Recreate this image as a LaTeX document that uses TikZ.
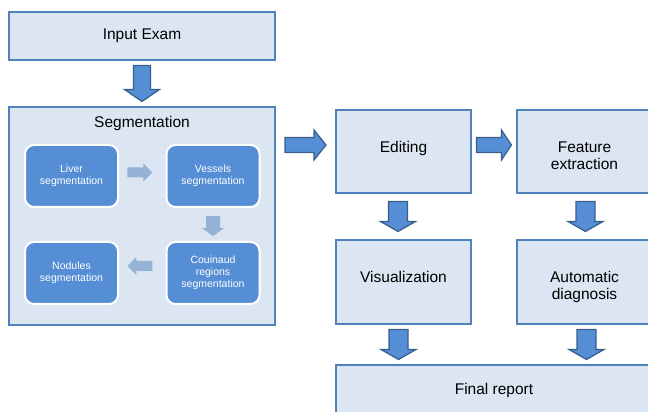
\documentclass[tikz,border=0pt]{standalone}
\usepackage{fontspec}
\setmainfont{Liberation Sans}
\usetikzlibrary{calc}
\definecolor{boxfill}{HTML}{DCE6F2}
\definecolor{boxline}{HTML}{4F81BD}
\definecolor{innerfill}{HTML}{558ED5}
\definecolor{arrline}{HTML}{385D8A}
\definecolor{lightarr}{HTML}{95B3D7}
\tikzset{
  mainbox/.style={draw=boxline, fill=boxfill, line width=2.6pt, inner sep=0pt, align=center,
    font=\fontsize{15.5}{17}\selectfont},
  innerbox/.style={draw=white, fill=innerfill, line width=2pt, rounded corners=9pt,
    minimum width=93pt, minimum height=62pt, inner sep=0pt, align=center, text=white,
    font=\fontsize{10.5}{12}\selectfont},
  bigarrow/.style={draw=arrline, fill=innerfill, line width=1.2pt, line join=miter},
  smallarrow/.style={fill=lightarr, draw=none},
  pics/barr/.style n args={5}{code={
    \path[#5] (-#1,-#2) -- ({#1-#4},-#2) -- ({#1-#4},-#3) -- (#1,0) -- ({#1-#4},#3)
      -- ({#1-#4},#2) -- (-#1,#2) -- cycle;}}
}
\newcommand{\twolines}[2]{\raisebox{-9.5pt}[0pt][0pt]{\begin{tabular}{@{}c@{}}#1\\#2\end{tabular}}}
\newcommand{\oneline}[2]{\raisebox{#1}[0pt][0pt]{#2}}
\begin{document}
\begin{tikzpicture}[x=1pt,y=1pt]
\useasboundingbox (0,0) rectangle (648,412);
\clip (0,0) rectangle (648,412);
% main boxes
\node[mainbox, minimum width=266pt, minimum height=48pt] (input) at (142,376) {Input Exam};
\node[mainbox, minimum width=266pt, minimum height=218pt] (seg) at (142,196) {};
\node[anchor=north, font=\fontsize{15.5}{17}\selectfont] (segtitle) at ($(seg.north)+(0,-7)$) {Segmentation};
\node[mainbox, minimum width=135pt, minimum height=83pt] (edit) at (403.5,260.5) {\oneline{-1.5pt}{Editing}};
\node[mainbox, minimum width=135pt, minimum height=83pt] (feat) at (584.5,260.5) {\twolines{Feature}{extraction}};
\node[mainbox, minimum width=135pt, minimum height=84pt] (vis) at (403.5,130) {\oneline{-1pt}{Visualization}};
\node[mainbox, minimum width=135pt, minimum height=84pt] (auto) at (584.5,130) {\twolines{Automatic}{diagnosis}};
\node[mainbox, minimum width=316pt, minimum height=84pt] (final) at (494,5) {};
\node[font=\fontsize{15.5}{17}\selectfont] (finaltext) at ($(final.north)+(0,-27)$) {Final report};
% inner boxes
\node[innerbox] (liver) at (71.5,236) {Liver\\segmentation};
\node[innerbox] (vessels) at (213,236) {Vessels\\segmentation};
\node[innerbox] (couinaud) at (213,139) {Couinaud\\regions\\segmentation};
\node[innerbox] (nodules) at (71.5,139) {Nodules\\segmentation};
% light arrows
\pic at ($(liver.east)!0.45!(vessels.west)+(0,3.5)$) {barr={12.5}{5}{9}{9}{smallarrow}};
\pic[rotate=-90] at ($(vessels.south)!0.55!(couinaud.north)$) {barr={10}{7}{11}{8}{smallarrow}};
\pic[rotate=180] at ($(couinaud.west)!0.55!(nodules.east)+(0,7)$) {barr={12.5}{5}{9}{9}{smallarrow}};
% big arrows
\pic[rotate=-90] at ($(input.south)!0.5!(seg.north)$) {barr={18}{8.5}{17.5}{12}{bigarrow}};
\pic at ($(seg.east |- edit.center)!0.5!(edit.west)+(0,6.5)$) {barr={20.5}{7.5}{15}{12}{bigarrow}};
\pic at ($(edit.east)!0.5!(feat.west)+(0,6.5)$) {barr={17.5}{7.5}{15}{10}{bigarrow}};
\pic[rotate=-90] at ($(edit.south)!0.5!(vis.north)+(-5.5,0)$) {barr={15}{9.5}{17.5}{10}{bigarrow}};
\pic[rotate=-90] at ($(feat.south)!0.5!(auto.north)+(1,0)$) {barr={15}{9.5}{17.5}{10}{bigarrow}};
\pic[rotate=-90] at ($(vis.south)!0.5!(vis.south |- final.north)+(-5,0)$) {barr={15}{9.5}{17.5}{10}{bigarrow}};
\pic[rotate=-90] at ($(auto.south)!0.5!(auto.south |- final.north)+(2,0)$) {barr={15}{9.5}{17.5}{10}{bigarrow}};
\end{tikzpicture}
\end{document}
